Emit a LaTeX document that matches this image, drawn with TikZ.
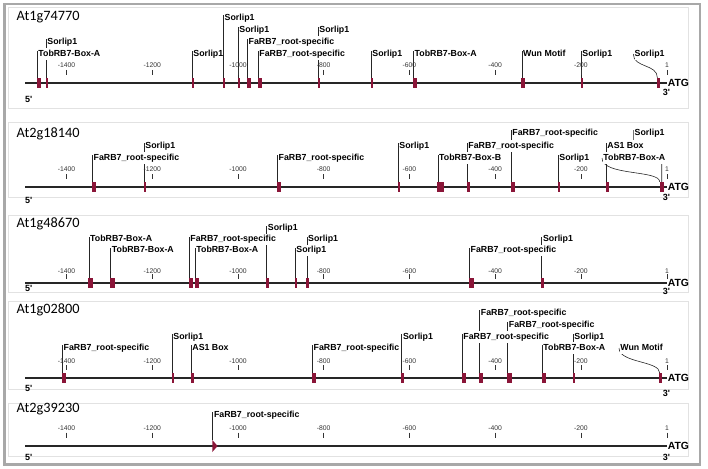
\documentclass[tikz,border=0pt]{standalone}
\usepackage{fontspec}
\setmainfont{Liberation Sans}
\newfontfamily\genefont{Carlito}
\usetikzlibrary{positioning}
\definecolor{sitered}{HTML}{8A1538}
\definecolor{framegray}{HTML}{A8A8A8}
\definecolor{panelgray}{HTML}{E2E2E2}
\pgfdeclarelayer{panels}
\pgfdeclarelayer{stems}
\pgfsetlayers{panels,stems,main}
\tikzset{
  genetitle/.style={font=\genefont\fontsize{14.3}{16}\selectfont, anchor=base west, inner sep=0pt},
  motiflabel/.style={font=\bfseries\fontsize{8.8}{10}\selectfont, fill=white, anchor=west,
    inner xsep=0pt, inner ysep=1.3pt, text height=7pt, text depth=2.3pt},
  motifsite/.style={fill=sitered, inner sep=0pt, minimum height=10pt, minimum width=#1, anchor=west},
  motifsite/.default=2.5pt,
  motifstem/.style={line width=0.6pt, black!85},
  dnaline/.style={line width=1.2pt, black!85},
  ticklabel/.style={font=\fontsize{6.8}{8}\selectfont, text=black!80, inner sep=0pt},
  tickmark/.style={line width=0.6pt, black!80},
  endlabel/.style={font=\bfseries\fontsize{9}{10}\selectfont, inner sep=0pt},
  atglabel/.style={font=\bfseries\fontsize{10.4}{12}\selectfont, inner sep=0pt},
  panelbox/.style={draw=panelgray, line width=0.8pt},
}

\begin{document}
\begin{tikzpicture}[x=1pt, y=-1pt]
  \useasboundingbox (0,0) rectangle (708,468);
  \begin{pgfonlayer}{panels}
    \draw[framegray, line width=2.5pt] (4.5,4) rectangle (700,464.5);
  \end{pgfonlayer}
  % panel frames, axes and scale
  \foreach \p/\ay/\bt/\bb/\gene/\tb/\kl/\kt/\kb/\fo/\th in {
      1/83/7/108/At1g74770/20.7/17.5/13/7.5/16/9,
      2/187/122/197/At2g18140/137.7/18/12.7/8/13/10,
      3/283/215/292/At1g48670/227.7/12/9/4.5/5.5/8.5,
      4/378/301/389/At1g02800/313.3/17/13/8/10/15,
      5/446/403/456/At2g39230/412.7/17.7/13.3/7.7/11.5/11.5}{
    \begin{pgfonlayer}{panels}
      \draw[panelbox] (8,\bt) rectangle (688,\bb);
    \end{pgfonlayer}
    \node[genetitle] (g\p) at (16.5,\tb) {\gene};
    \coordinate (ax\p) at (25,\ay);
    \coordinate (ae\p) at (667,\ay);
    \draw[dnaline] (ax\p) -- (ae\p);
    \node[atglabel, right=0.6pt of ae\p] (atg\p) {ATG};
    \node[endlabel, anchor=west] (f\p) at (25,\ay+\fo) {5\textquotesingle};
    \node[endlabel] (t\p) at (666.5,\ay+\th) {3\textquotesingle};
    \foreach \pos/\k in {-1400/1,-1200/2,-1000/3,-800/4,-600/5,-400/6,-200/7,1/8}{
      \node[ticklabel] (k\p\k) at ({667+0.4286*(\pos-1)},\ay-\kl) {\pos};
      \draw[tickmark] ({667+0.4286*(\pos-1)},\ay-\kt) -- ({667+0.4286*(\pos-1)},\ay-\kb);
    }
  }
  % At1g74770
  \foreach \n/\x/\w/\y/\txt in {
      1/37/4.5/53/TobRB7-Box-A, 2/46/2.5/41/Sorlip1, 3/192/2.5/53/Sorlip1,
      4/223.3/2.5/17/Sorlip1, 5/238/2.5/29/Sorlip1, 6/247.3/4.5/41/FaRB7\_root-specific,
      7/258/4.5/53/FaRB7\_root-specific, 8/318/2.5/29/Sorlip1, 9/371/2.5/53/Sorlip1,
      10/413.3/4.5/53/TobRB7-Box-A, 11/521.8/3.6/53/Wun Motif, 12/581/2.5/53/Sorlip1}{
    \node[motifsite=\w pt] (p1m\n) at (\x-0.6,83) {};
    \node[motiflabel] (p1l\n) at (\x+1.2,\y+1) {\txt};
    \begin{pgfonlayer}{stems}
      \draw[motifstem] ([xshift=0.6pt]p1m\n.north west) -- ([xshift=-1.2pt,yshift=3pt]p1l\n.west);
    \end{pgfonlayer}
  }
  \node[motifsite=3pt] (p1m13) at (656.4,83) {};
  \node[motiflabel] (p1l13) at (634.5,54) {Sorlip1};
  \begin{pgfonlayer}{stems}
    \draw[motifstem] ([xshift=-1.2pt]p1l13.west) .. controls +(0,14) and +(0,-14) .. ([xshift=1pt]p1m13.north west);
  \end{pgfonlayer}
  % At2g18140
  \foreach \n/\x/\w/\y/\txt in {
      1/92.3/4.5/157/FaRB7\_root-specific, 2/144/2.5/145/Sorlip1,
      3/277.3/4.5/157/FaRB7\_root-specific, 4/398/2.5/145/Sorlip1,
      5/437.8/6.4/157/TobRB7-Box-B, 6/467/3.5/145/FaRB7\_root-specific,
      7/511/4.5/132/FaRB7\_root-specific, 8/558/2.5/157/Sorlip1, 9/606/3/145/AS1 Box}{
    \node[motifsite=\w pt] (p2m\n) at (\x-0.6,187) {};
    \node[motiflabel] (p2l\n) at (\x+1.2,\y+1) {\txt};
    \begin{pgfonlayer}{stems}
      \draw[motifstem] ([xshift=0.6pt]p2m\n.north west) -- ([xshift=-1.2pt,yshift=3pt]p2l\n.west);
    \end{pgfonlayer}
  }
  \node[motifsite=4.4pt] (p2m10) at (659.3,187) {};
  \node[motiflabel] (p2l10) at (603.2,158) {TobRB7-Box-A};
  \node[motiflabel] (p2l11) at (634.5,133) {Sorlip1};
  \begin{pgfonlayer}{stems}
    \draw[motifstem] ([xshift=-1.2pt]p2l10.west) .. controls +(0,18) and +(0,-12) .. ([xshift=0.4pt]p2m10.north west);
    \draw[motifstem] ([xshift=-1.2pt,yshift=3pt]p2l11.west) -- ++(0,17)
      .. controls +(0,8) and +(0,-5) .. ++(28.4,15) -- ([xshift=2.4pt]p2m10.north west);
  \end{pgfonlayer}
  % At1g48670
  \foreach \n/\x/\w/\y/\txt in {
      1/88.8/4.8/238.5/TobRB7-Box-A, 2/110.5/4.8/249.5/TobRB7-Box-A,
      3/189/4.8/238.5/FaRB7\_root-specific, 4/195/4.5/249.5/TobRB7-Box-A,
      5/266.5/2.5/227.5/Sorlip1, 6/295/2.5/249.5/Sorlip1, 7/306.8/2.5/238.5/Sorlip1,
      8/469.3/4.8/249.5/FaRB7\_root-specific, 9/541.7/2.5/238.5/Sorlip1}{
    \node[motifsite=\w pt] (p3m\n) at (\x-0.6,283) {};
    \node[motiflabel] (p3l\n) at (\x+1.2,\y+1) {\txt};
    \begin{pgfonlayer}{stems}
      \draw[motifstem] ([xshift=0.6pt]p3m\n.north west) -- ([xshift=-1.2pt,yshift=3pt]p3l\n.west);
    \end{pgfonlayer}
  }
  % At1g02800
  \foreach \n/\x/\w/\y/\txt in {
      1/62.3/4.5/347/FaRB7\_root-specific, 2/172/2.5/336/Sorlip1, 3/191/3/347/AS1 Box,
      4/312.3/4.5/347/FaRB7\_root-specific, 5/401.7/2.5/336/Sorlip1,
      6/462/4.5/336/FaRB7\_root-specific, 7/479.5/4.3/312/FaRB7\_root-specific,
      8/507.5/4.5/324/FaRB7\_root-specific, 9/542/4.3/347/TobRB7-Box-A,
      10/573/2.5/336/Sorlip1}{
    \node[motifsite=\w pt] (p4m\n) at (\x-0.6,378) {};
    \node[motiflabel] (p4l\n) at (\x+1.2,\y+1) {\txt};
    \begin{pgfonlayer}{stems}
      \draw[motifstem] ([xshift=0.6pt]p4m\n.north west) -- ([xshift=-1.2pt,yshift=3pt]p4l\n.west);
    \end{pgfonlayer}
  }
  \node[motifsite=3pt] (p4m11) at (658.9,378) {};
  \node[motiflabel] (p4l11) at (620.2,348) {Wun Motif};
  \begin{pgfonlayer}{stems}
    \draw[motifstem] ([xshift=-1.2pt]p4l11.west) .. controls +(0,15) and +(0,-12) .. ([xshift=0.8pt]p4m11.north west);
  \end{pgfonlayer}
  % At2g39230
  \fill[sitered] (212.3,440) -- (217.6,446) -- (212.3,452) -- cycle;
  \coordinate (p5m1) at (212.6,440);
  \node[motiflabel] (p5l1) at (213.8,415) {FaRB7\_root-specific};
  \begin{pgfonlayer}{stems}
    \draw[motifstem] (p5m1) -- ([xshift=-1.2pt,yshift=3pt]p5l1.west);
  \end{pgfonlayer}
\end{tikzpicture}
\end{document}
